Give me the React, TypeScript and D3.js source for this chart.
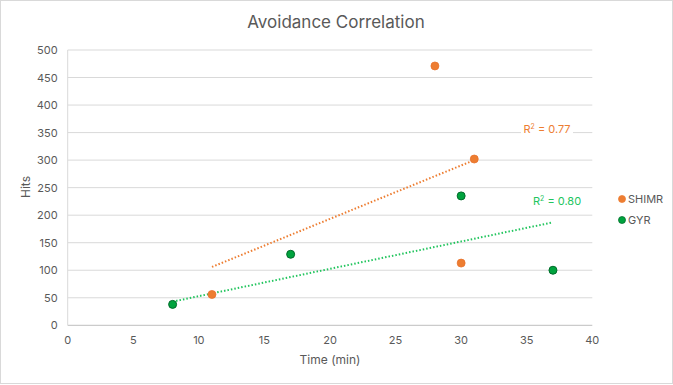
import React from "react";
import * as d3 from "d3";

const shimrX = [11, 28, 31, 30];
const shimrY = [56, 471, 302, 113];
const gyrX = [8, 17, 30, 37];
const gyrY = [38, 129, 235, 100];
const shimrTrendX = [11, 31];
const shimrTrendY = [106, 300];
const gyrTrendX = [8, 37];
const gyrTrendY = [43, 187];
const xTicks = [0, 5, 10, 15, 20, 25, 30, 35, 40];
const yTicks = [0, 50, 100, 150, 200, 250, 300, 350, 400, 450, 500];
const seriesNames = ["SHIMR", "GYR"];
const r2Labels = ["0.77", "0.80"];

const W = 673, H = 385;
const FONT = "Inter, 'Open Sans', 'Noto Sans', sans-serif";
const ORANGE = "#ED7D31";
const GREEN = "#00A33E";
const GREEN_LINE = "#22C55E";

export default function App() {
  const x = d3.scaleLinear().domain([0, 40]).range([67.7, 592.3]);
  const y = d3.scaleLinear().domain([0, 500]).range([325.3, 50]);
  const line = d3.line<[number, number]>().x(d => x(d[0])).y(d => y(d[1]));
  const sPts = shimrX.map((v, i) => [v, shimrY[i]] as [number, number]);
  const gPts = gyrX.map((v, i) => [v, gyrY[i]] as [number, number]);
  const sTrend = shimrTrendX.map((v, i) => [v, shimrTrendY[i]] as [number, number]);
  const gTrend = gyrTrendX.map((v, i) => [v, gyrTrendY[i]] as [number, number]);

  return (
    <svg width={W} height={H} style={{ position: "absolute", left: 0, top: 0, display: "block" }} fontFamily={FONT}>
      <rect x={0.5} y={0.5} width={W - 1} height={H - 2} fill="#fff" stroke="#d9d9d9" />
      <text x={336} y={28} textAnchor="middle" fontSize={17} fill="#595959">Avoidance Correlation</text>
      {yTicks.map(t => (
        <g key={t}>
          <line x1={x(0)} x2={x(40)} y1={y(t)} y2={y(t)} stroke={t === 0 ? "#bfbfbf" : "#d9d9d9"} strokeWidth={1} />
          <text x={x(0) - 10} y={y(t) + 4} textAnchor="end" fontSize={11} fill="#595959">{t}</text>
        </g>
      ))}
      <line x1={x(0)} x2={x(0)} y1={y(500)} y2={y(0)} stroke="#d9d9d9" />
      {xTicks.map(t => (
        <text key={t} x={x(t)} y={344} textAnchor="middle" fontSize={11} fill="#595959">{t}</text>
      ))}
      <text x={330} y={364} textAnchor="middle" fontSize={12} fill="#595959">Time (min)</text>
      <text transform={`translate(30,${187}) rotate(-90)`} textAnchor="middle" fontSize={12} fill="#595959">Hits</text>

      <path d={line(sTrend) || ""} stroke={ORANGE} strokeWidth={2} strokeDasharray="1.5 2" fill="none" />
      <path d={line(gTrend) || ""} stroke={GREEN_LINE} strokeWidth={2} strokeDasharray="1.5 2" fill="none" />

      {sPts.map((p, i) => (
        <circle key={"s" + i} cx={x(p[0])} cy={y(p[1])} r={4} fill={ORANGE} stroke="#E8702A" strokeWidth={0.75} />
      ))}
      {gPts.map((p, i) => (
        <circle key={"g" + i} cx={x(p[0])} cy={y(p[1])} r={4} fill={GREEN} stroke="#006b2a" strokeWidth={1} />
      ))}

      <rect x={521} y={120} width={52} height={16} fill="#fff" />
      <text x={547} y={133} textAnchor="middle" fontSize={11} fill={ORANGE}>
        R<tspan dy={-4} fontSize={7}>2</tspan><tspan dy={4}> = {r2Labels[0]}</tspan>
      </text>
      <text x={557} y={205} textAnchor="middle" fontSize={11} fill={GREEN_LINE}>
        R<tspan dy={-4} fontSize={7}>2</tspan><tspan dy={4}> = {r2Labels[1]}</tspan>
      </text>

      {seriesNames.map((n, i) => (
        <g key={n}>
          <circle cx={622} cy={199 + i * 21} r={3.5} fill={i === 0 ? ORANGE : GREEN} stroke={i === 0 ? ORANGE : "#006b2a"} strokeWidth={0.75} />
          <text x={628} y={203 + i * 21} fontSize={11} fill="#595959">{n}</text>
        </g>
      ))}
    </svg>
  );
}
